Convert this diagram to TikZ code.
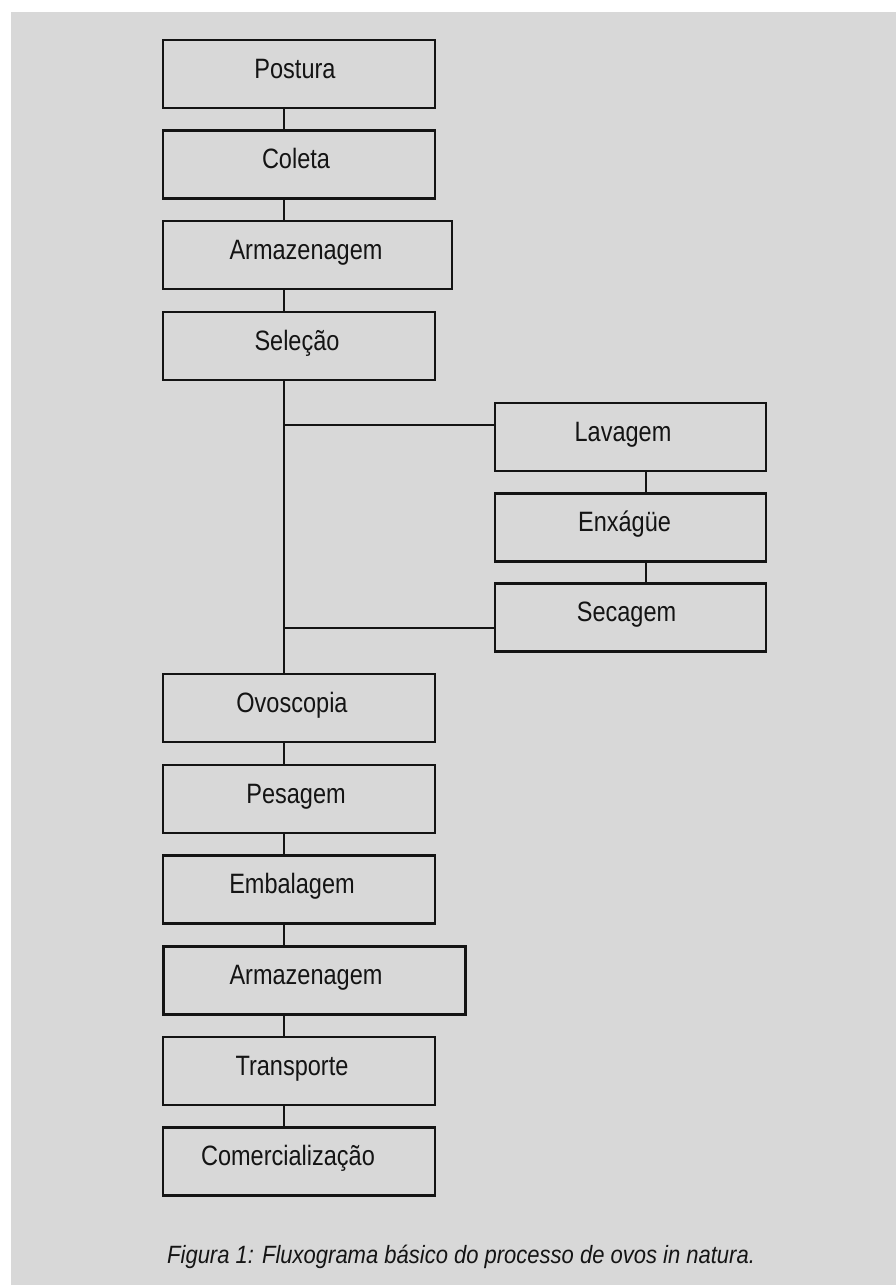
\documentclass[tikz,border=0pt]{standalone}
\usepackage{fontspec}
\setmainfont{Liberation Sans}
\newfontfamily\condfont[FakeStretch=0.84]{Liberation Sans}
\newfontfamily\capfont[FakeStretch=0.88]{Liberation Sans}
\definecolor{bggray}{RGB}{216,216,216}
\definecolor{ink}{RGB}{20,20,20}
\newcommand\boxtxt[2]{#2\hspace*{#1pt}\hspace*{#1pt}}
\begin{document}
\begin{tikzpicture}[x=1pt,y=-1pt,
  box/.style={draw=ink, line width=2.6pt, rectangle, inner sep=0pt,
    minimum height=68pt, text height=20pt, text depth=12pt,
    font=\condfont\fontsize{28}{30}\selectfont, text=ink},
  link/.style={draw=ink, line width=2pt},
  hlink/.style={draw=ink, line width=2.6pt}]
\useasboundingbox (0,0) rectangle (896,1285);
\fill[bggray] (11,12) rectangle (896,1285);
% left column
\node[box, minimum width=272pt] (postura) at (299,74) {\boxtxt{4}{Postura}};
\node[box, minimum width=272pt] (coleta) at (299,164.5) {\boxtxt{3}{Coleta}};
\node[box, minimum width=289pt] (arm1) at (307.5,255) {\boxtxt{1.5}{Armazenagem}};
\node[box, minimum width=272pt] (selecao) at (299,346) {\boxtxt{2}{Seleção}};
% right column
\node[box, minimum width=271pt] (lavagem) at (630.5,437) {\boxtxt{7.5}{Lavagem}};
\node[box, minimum width=271pt] (enxague) at (630.5,527.5) {\boxtxt{6}{Enxágüe}};
\node[box, minimum width=271pt] (secagem) at (630.5,617.5) {\boxtxt{4}{Secagem}};
% lower column
\node[box, minimum width=272pt] (ovoscopia) at (299,708) {\boxtxt{7}{Ovoscopia}};
\node[box, minimum width=272pt] (pesagem) at (299,799) {\boxtxt{3}{Pesagem}};
\node[box, minimum width=272pt] (embalagem) at (299,889.5) {\boxtxt{7}{Embalagem}};
\node[box, minimum width=302pt, line width=3pt] (arm2) at (314,980) {\boxtxt{8}{Armazenagem}};
\node[box, minimum width=272pt] (transporte) at (299,1071) {\boxtxt{7}{Transporte}};
\node[box, minimum width=272pt] (comerc) at (299,1161.5) {\boxtxt{11}{Comercialização}};
% spines
\coordinate (spine) at (284,0);
\coordinate (spineR) at (646,0);
\coordinate (j1) at (284,425);
\coordinate (j2) at (284,628);
\draw[link] (postura.south -| spine) -- (coleta.north -| spine);
\draw[link] (coleta.south -| spine) -- (arm1.north -| spine);
\draw[link] (arm1.south -| spine) -- (selecao.north -| spine);
\draw[link] (selecao.south -| spine) -- (ovoscopia.north -| spine);
\draw[hlink] (j1) -- (j1 -| lavagem.west);
\draw[hlink] (j2) -- (j2 -| secagem.west);
\draw[link] (lavagem.south -| spineR) -- (enxague.north -| spineR);
\draw[link] (enxague.south -| spineR) -- (secagem.north -| spineR);
\draw[link] (ovoscopia.south -| spine) -- (pesagem.north -| spine);
\draw[link] (pesagem.south -| spine) -- (embalagem.north -| spine);
\draw[link] (embalagem.south -| spine) -- (arm2.north -| spine);
\draw[link] (arm2.south -| spine) -- (transporte.north -| spine);
\draw[link] (transporte.south -| spine) -- (comerc.north -| spine);
% caption
\node[anchor=base west, inner sep=0pt, text=ink, font=\capfont\itshape\fontsize{25}{28}\selectfont] (caption) at (167,1263) {Figura 1: Fluxograma básico do processo de ovos in natura.};
\end{tikzpicture}
\end{document}
